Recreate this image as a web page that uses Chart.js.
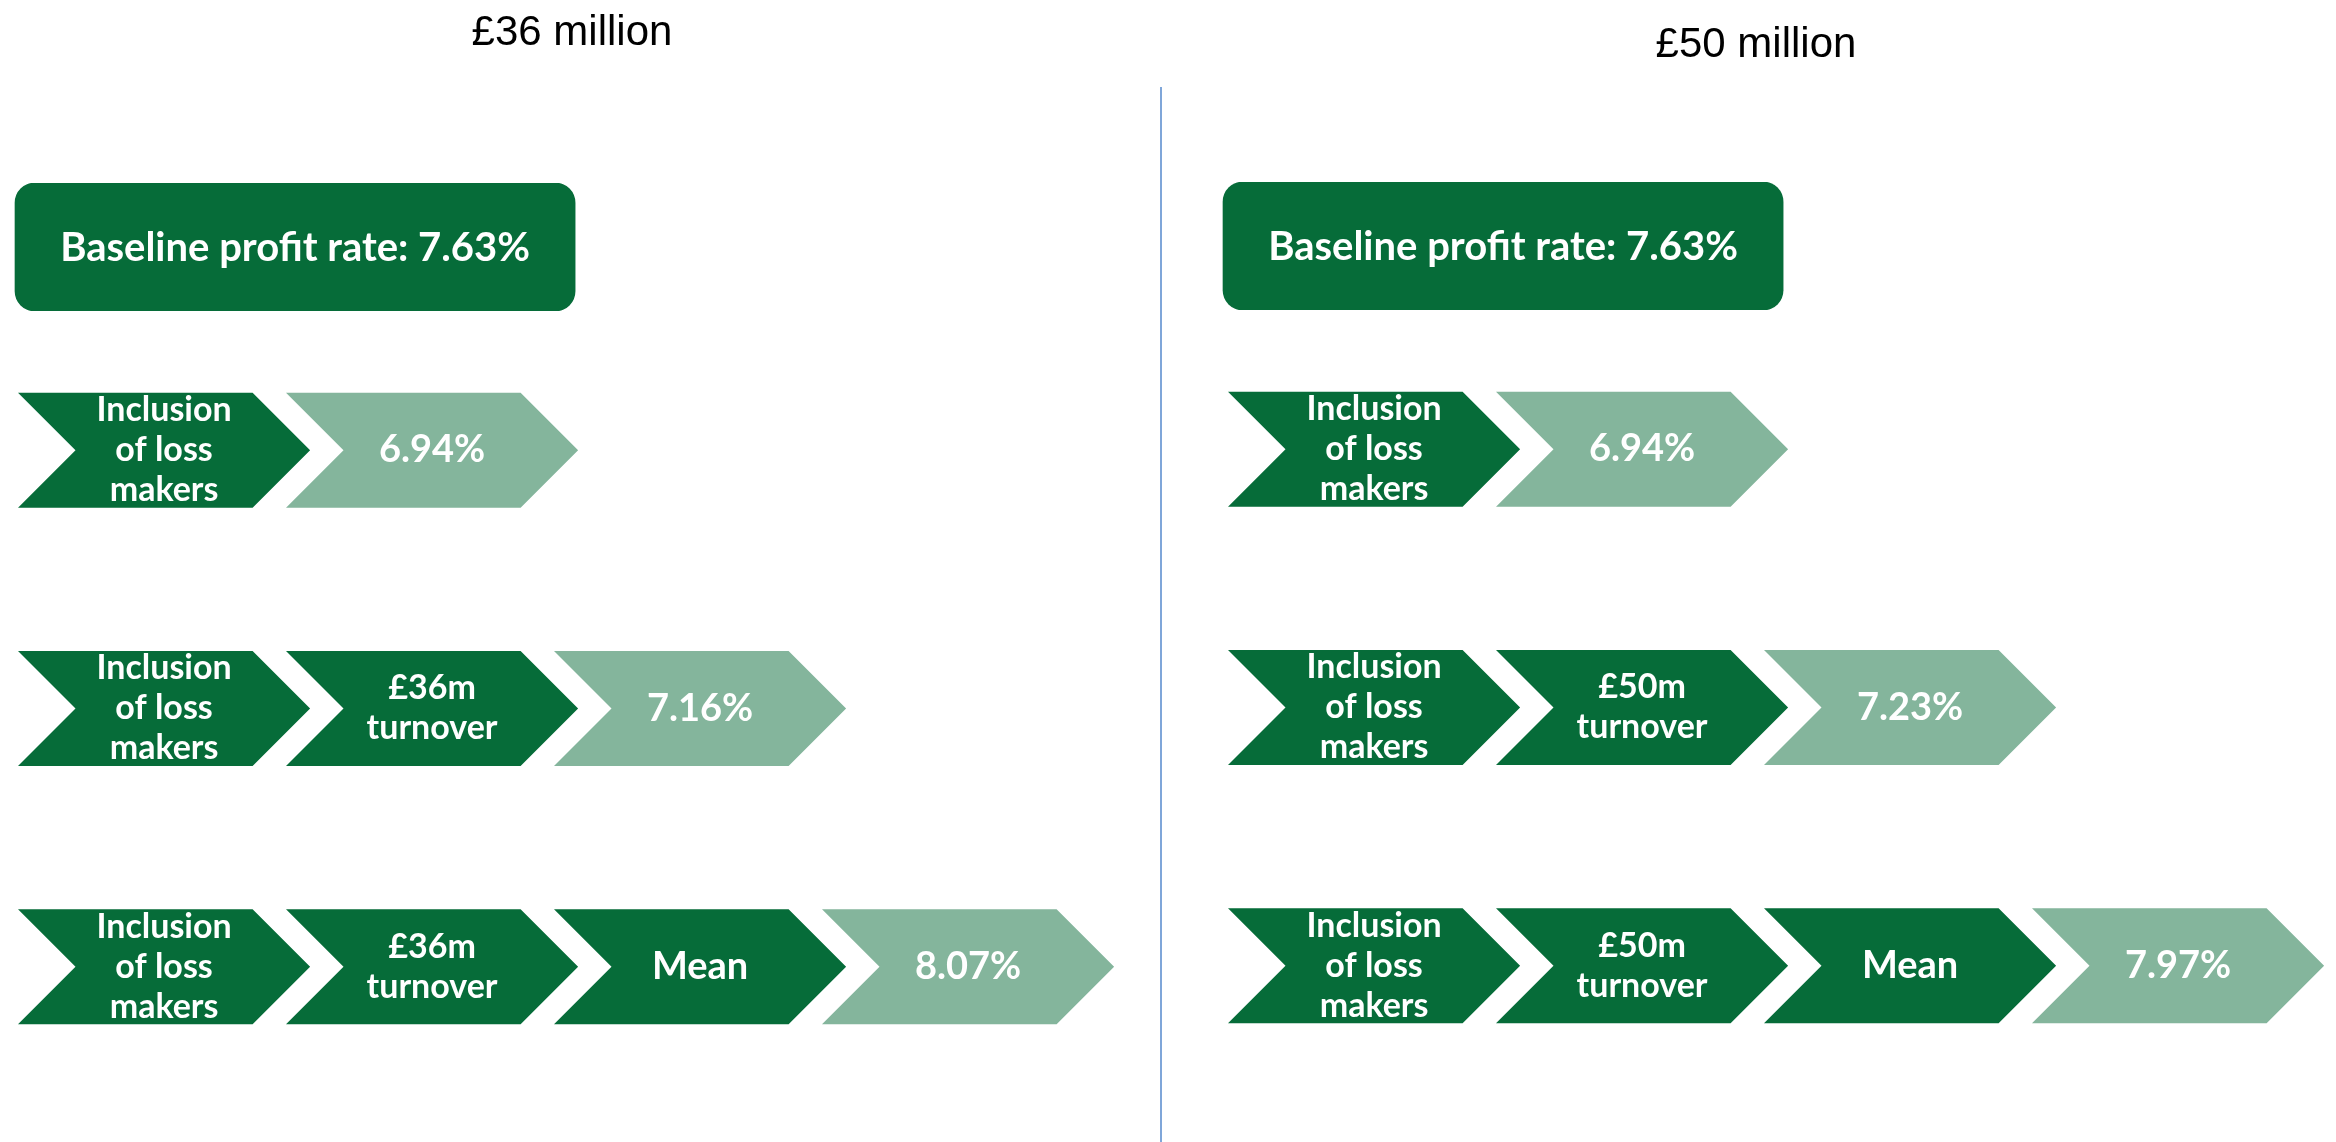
<!DOCTYPE html>
<html>
<head>
<meta charset="utf-8">
<script src="https://cdn.jsdelivr.net/npm/chart.js@4.4.1/dist/chart.umd.min.js"></script>
<style>
  body { margin: 0; background: #fff; overflow: hidden; width: 2336px; height: 1142px; position: relative; }
  canvas { position: absolute; }
  #divider { position: absolute; left: 1160px; top: 87px; width: 2px; height: 1055px; background: #7fa6d9; }
</style>
</head>
<body>
<canvas id="topLeft" width="1144" height="311" style="left:0;top:0"></canvas>
<canvas id="rowsLeft" width="1134" height="775" style="left:18px;top:321px"></canvas>
<div id="divider"></div>
<canvas id="topRight" width="1160" height="310" style="left:1176px;top:0"></canvas>
<canvas id="rowsRight" width="1108" height="775" style="left:1228px;top:320px"></canvas>
<script>
var panelTitles = ['£36 million', '£50 million'];
var baselineRates = [7.63, 7.63];
// adjustments applied cumulatively, one more per row
var leftAdjustments = ['Inclusion of loss makers', '£36m turnover', 'Mean'];
var rightAdjustments = ['Inclusion of loss makers', '£50m turnover', 'Mean'];
var leftRates = [6.94, 7.16, 8.07];
var rightRates = [6.94, 7.23, 7.97];

var DARK = '#066c39', LIGHT = '#84b59c';
var STEP_PX = 268;      // pixels per step along x
var CHEVRON_W = 1.09;   // chevron length in steps
var BOX_W = 2.09;       // baseline box length in steps

function fmt(v) { return v.toFixed(2) + '%'; }

function wrapLines(ctx, text, maxW) {
  var words = text.split(' '), lines = [], cur = '';
  words.forEach(function(w) {
    var t = cur ? cur + ' ' + w : w;
    if (cur && ctx.measureText(t).width > maxW) { lines.push(cur); cur = w; }
    else cur = t;
  });
  if (cur) lines.push(cur);
  return lines;
}

var boxText = {
  id: 'boxText',
  afterDatasetsDraw: function(chart, args, opts) {
    var p = chart.getDatasetMeta(0).data[0].getProps(['x', 'y', 'base'], true);
    var ctx = chart.ctx;
    ctx.save();
    ctx.fillStyle = '#fff';
    ctx.font = 'bold 40px Lato';
    ctx.textAlign = 'center';
    ctx.textBaseline = 'middle';
    ctx.fillText('Baseline profit rate: ' + fmt(opts.rate), (p.x + p.base) / 2, p.y + 1);
    ctx.restore();
  }
};

var chevrons = {
  id: 'chevrons',
  afterDatasetsDraw: function(chart, args, opts) {
    var ctx = chart.ctx;
    chart.data.datasets.forEach(function(ds, k) {
      chart.getDatasetMeta(k).data.forEach(function(el, r) {
        if (ds.data[r] == null) return;
        var p = el.getProps(['x', 'y', 'base', 'height'], true);
        var isResult = k === r + 1;
        var d = p.height / 2;
        var top = p.y - p.height / 2, bot = p.y + p.height / 2;
        ctx.save();
        ctx.beginPath();
        ctx.moveTo(p.base, top);
        ctx.lineTo(p.x - d, top);
        ctx.lineTo(p.x, p.y);
        ctx.lineTo(p.x - d, bot);
        ctx.lineTo(p.base, bot);
        ctx.lineTo(p.base + d, p.y);
        ctx.closePath();
        ctx.fillStyle = isResult ? LIGHT : DARK;
        ctx.fill();

        var text = isResult ? fmt(opts.rates[r]) : opts.steps[k];
        var cx = (p.base + p.x) / 2;
        ctx.fillStyle = '#fff';
        ctx.textAlign = 'center';
        ctx.textBaseline = 'middle';
        ctx.font = 'bold 38px Lato';
        if (ctx.measureText(text).width <= 170) {
          ctx.fillText(text, cx, p.y);
        } else {
          ctx.font = 'bold 34px Lato';
          var lines = wrapLines(ctx, text, 160);
          lines.forEach(function(line, i) {
            ctx.fillText(line, cx, p.y + (i - (lines.length - 1) / 2) * 40);
          });
        }
        ctx.restore();
      });
    });
  }
};

function makeTop(id, title, rate, boxLeftPx, padTop, padBottom) {
  var canvas = document.getElementById(id);
  var minX = -boxLeftPx / STEP_PX;
  new Chart(canvas, {
    type: 'bar',
    data: {
      labels: ['Baseline'],
      datasets: [{
        data: [[0, BOX_W]],
        backgroundColor: DARK,
        borderRadius: 20,
        borderSkipped: false,
        barPercentage: 1,
        categoryPercentage: 1
      }]
    },
    options: {
      indexAxis: 'y',
      responsive: false,
      animation: false,
      events: [],
      layout: { padding: 0 },
      scales: {
        x: { type: 'linear', display: false, min: minX, max: minX + canvas.width / STEP_PX },
        y: { display: false }
      },
      plugins: {
        legend: { display: false },
        tooltip: { enabled: false },
        title: {
          display: true,
          text: title,
          color: '#000',
          font: { family: 'Liberation Sans', size: 42, weight: 'normal' },
          padding: { top: padTop, bottom: padBottom }
        },
        boxText: { rate: rate }
      }
    },
    plugins: [boxText]
  });
}

function makeRows(id, adjustments, rates) {
  var canvas = document.getElementById(id);
  var datasets = [];
  for (var k = 0; k <= adjustments.length; k++) {
    var data = rates.map(function(v, r) {
      return k <= r + 1 ? [k, k + CHEVRON_W] : null;
    });
    datasets.push({
      data: data,
      grouped: false,
      barThickness: 115,
      backgroundColor: 'rgba(0,0,0,0)',
      borderWidth: 0
    });
  }
  new Chart(canvas, {
    type: 'bar',
    data: { labels: rates.map(function(v, r) { return 'Row ' + (r + 1); }), datasets: datasets },
    options: {
      indexAxis: 'y',
      responsive: false,
      animation: false,
      events: [],
      layout: { padding: 0 },
      scales: {
        x: { type: 'linear', display: false, min: 0, max: canvas.width / STEP_PX },
        y: { display: false }
      },
      plugins: {
        legend: { display: false },
        tooltip: { enabled: false },
        chevrons: { steps: adjustments, rates: rates }
      }
    },
    plugins: [chevrons]
  });
}

makeTop('topLeft', panelTitles[0], baselineRates[0], 15, 8, 124.6);
makeTop('topRight', panelTitles[1], baselineRates[1], 47, 20, 111.6);
makeRows('rowsLeft', leftAdjustments, leftRates);
makeRows('rowsRight', rightAdjustments, rightRates);
</script>
</body>
</html>
